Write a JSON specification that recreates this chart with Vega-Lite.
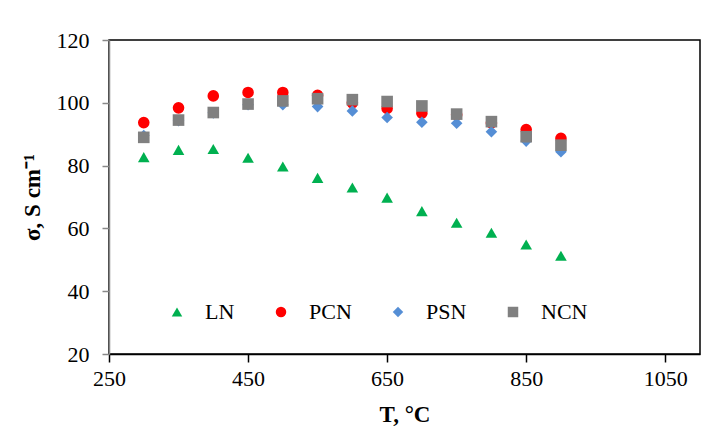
{
  "$schema": "https://vega.github.io/schema/vega-lite/v6.json",
  "width": 591,
  "height": 314,
  "autosize": {"type": "none"},
  "padding": {"left": 109, "top": 40, "right": 26, "bottom": 88},
  "background": "white",
  "config": {
    "font": "Liberation Serif",
    "view": {"stroke": "#000000", "strokeWidth": 1.5}
  },
  "data": {
    "values": [
      {"series": "LN", "T": 300, "sigma": 82.7},
      {"series": "LN", "T": 350, "sigma": 85.0},
      {"series": "LN", "T": 400, "sigma": 85.3},
      {"series": "LN", "T": 450, "sigma": 82.5},
      {"series": "LN", "T": 500, "sigma": 79.7},
      {"series": "LN", "T": 550, "sigma": 76.1},
      {"series": "LN", "T": 600, "sigma": 73.0},
      {"series": "LN", "T": 650, "sigma": 69.8},
      {"series": "LN", "T": 700, "sigma": 65.5},
      {"series": "LN", "T": 750, "sigma": 61.8},
      {"series": "LN", "T": 800, "sigma": 58.6},
      {"series": "LN", "T": 850, "sigma": 54.9},
      {"series": "LN", "T": 900, "sigma": 51.3},
      {"series": "PCN", "T": 300, "sigma": 93.7},
      {"series": "PCN", "T": 350, "sigma": 98.4},
      {"series": "PCN", "T": 400, "sigma": 102.2},
      {"series": "PCN", "T": 450, "sigma": 103.3},
      {"series": "PCN", "T": 500, "sigma": 103.3},
      {"series": "PCN", "T": 550, "sigma": 102.4},
      {"series": "PCN", "T": 600, "sigma": 100.0},
      {"series": "PCN", "T": 650, "sigma": 98.2},
      {"series": "PCN", "T": 700, "sigma": 96.7},
      {"series": "PCN", "T": 750, "sigma": 96.2},
      {"series": "PCN", "T": 800, "sigma": 93.6},
      {"series": "PCN", "T": 850, "sigma": 91.5},
      {"series": "PCN", "T": 900, "sigma": 88.7},
      {"series": "PSN", "T": 300, "sigma": 89.6},
      {"series": "PSN", "T": 350, "sigma": 94.3},
      {"series": "PSN", "T": 400, "sigma": 96.8},
      {"series": "PSN", "T": 450, "sigma": 99.4},
      {"series": "PSN", "T": 500, "sigma": 99.4},
      {"series": "PSN", "T": 550, "sigma": 98.8},
      {"series": "PSN", "T": 600, "sigma": 97.4},
      {"series": "PSN", "T": 650, "sigma": 95.3},
      {"series": "PSN", "T": 700, "sigma": 93.8},
      {"series": "PSN", "T": 750, "sigma": 93.5},
      {"series": "PSN", "T": 800, "sigma": 90.8},
      {"series": "PSN", "T": 850, "sigma": 87.8},
      {"series": "PSN", "T": 900, "sigma": 84.4},
      {"series": "NCN", "T": 300, "sigma": 89.0},
      {"series": "NCN", "T": 350, "sigma": 94.5},
      {"series": "NCN", "T": 400, "sigma": 96.9},
      {"series": "NCN", "T": 450, "sigma": 99.6},
      {"series": "NCN", "T": 500, "sigma": 100.6},
      {"series": "NCN", "T": 550, "sigma": 101.3},
      {"series": "NCN", "T": 600, "sigma": 101.0},
      {"series": "NCN", "T": 650, "sigma": 100.4},
      {"series": "NCN", "T": 700, "sigma": 99.0},
      {"series": "NCN", "T": 750, "sigma": 96.4},
      {"series": "NCN", "T": 800, "sigma": 94.0},
      {"series": "NCN", "T": 850, "sigma": 89.2},
      {"series": "NCN", "T": 900, "sigma": 86.5}
    ]
  },
  "mark": {"type": "point", "filled": true, "opacity": 1, "size": 135, "strokeWidth": 0},
  "encoding": {
    "x": {
      "field": "T", "type": "quantitative",
      "scale": {"domain": [250, 1100], "nice": false, "zero": false},
      "axis": {"values": [250, 450, 650, 850, 1050], "format": "d", "title": "T, °C", "grid": false,
        "labelFont": "Liberation Serif", "labelFontSize": 22, "labelColor": "#000",
        "titleFont": "Liberation Serif", "titleFontSize": 23, "titleFontWeight": "bold", "titleColor": "#000",
        "domainColor": "#000", "domainWidth": 1.5, "tickColor": "#000", "tickWidth": 1.5, "tickSize": 8, "labelPadding": 6, "titlePadding": 14, "labelFlush": false}
    },
    "y": {
      "field": "sigma", "type": "quantitative",
      "scale": {"domain": [20, 120], "nice": false, "zero": false},
      "axis": {"values": [20, 40, 60, 80, 100, 120], "format": "d", "title": "σ, S cm⁻¹", "grid": false,
        "labelFont": "Liberation Serif", "labelFontSize": 22, "labelColor": "#000",
        "titleFont": "Liberation Serif", "titleFontSize": 23, "titleFontWeight": "bold", "titleColor": "#000",
        "domainColor": "#888888", "domainWidth": 1.5, "tickColor": "#888888", "tickWidth": 1.5, "tickSize": 7, "labelPadding": 13, "titlePadding": 12, "labelFlush": false}
    },
    "color": {
      "field": "series", "type": "nominal",
      "scale": {"domain": ["LN", "PCN", "PSN", "NCN"], "range": ["#00B050", "#FF0000", "#558ED5", "#808080"]},
      "legend": {"title": null, "orient": "none", "legendX": 57, "legendY": 261, "direction": "horizontal", "columns": 4, "columnPadding": 35, "labelOffset": 17, "labelFont": "Liberation Serif", "labelFontSize": 22, "symbolSize": 110, "padding": 0, "labelColor": "#000"}
    },
    "shape": {
      "field": "series", "type": "nominal",
      "scale": {"domain": ["LN", "PCN", "PSN", "NCN"], "range": ["triangle-up", "circle", "diamond", "square"]}
    }
  }
}
